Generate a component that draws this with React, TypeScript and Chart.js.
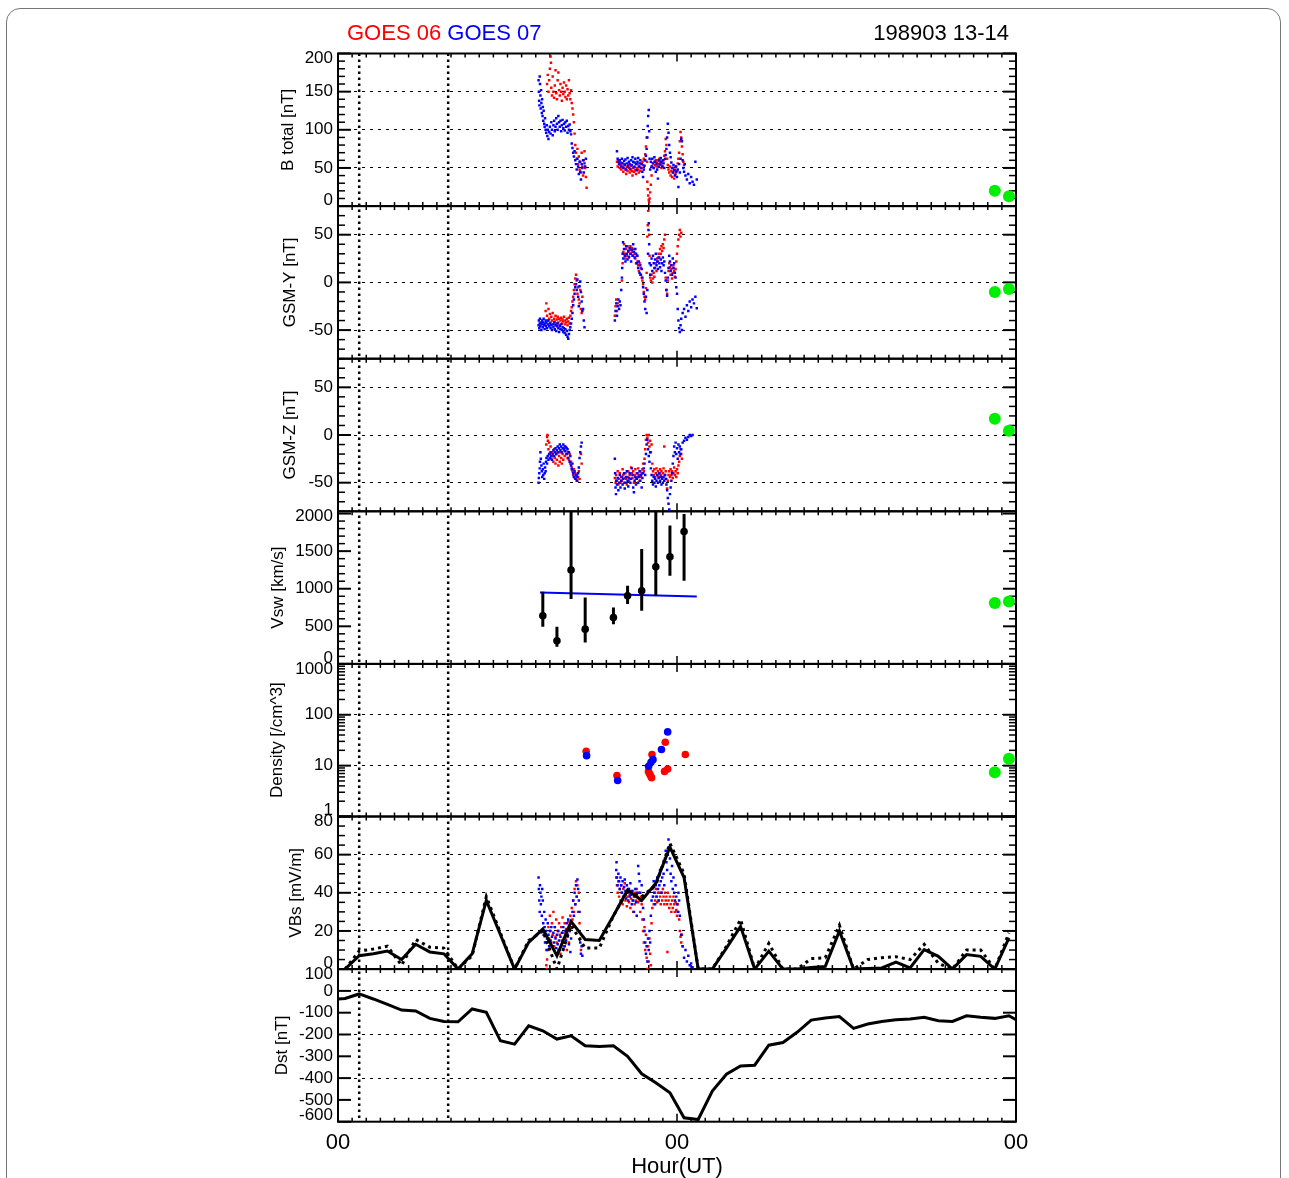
import { useEffect, useRef } from 'react';
import { Chart, registerables } from 'chart.js';

Chart.register(...registerables);

const FONT = "'Liberation Sans', Arial, Helvetica, sans-serif";

// ---------- x axis ----------
const HOUR_TICKS = [0, 24, 48];
const HOUR_LABELS = ['00', '00', '00'];
const MARKER_HOURS = [1.5, 7.8];

// ---------- tick values ----------
const BT_TICKS = [0, 50, 100, 150, 200];
const BY_TICKS = [-50, 0, 50];
const BZ_TICKS = [-50, 0, 50];
const V_TICKS = [0, 500, 1000, 1500, 2000];
const N_TICKS = [1, 10, 100, 1000];
const E_TICKS = [0, 20, 40, 60, 80];
const DST_TICKS = [-600, -500, -400, -300, -200, -100, 0, 100];

// ---------- GOES 06 (red) / GOES 07 (blue) : B total [nT] ----------
const G07_BT = [
  [14.2,165],[14.22,150],[14.24,138],[14.26,132],[14.28,170],[14.3,160],[14.33,145],[14.35,128],[14.38,152],[14.4,135],
  [14.43,122],[14.45,140],[14.48,118],[14.5,130],[14.53,112],[14.56,125],[14.6,108],[14.63,104],[14.66,115],[14.7,100],
  [14.74,96],[14.78,106],[14.82,92],[14.86,100],[14.9,88],[14.95,97],[15,104],[15.05,95],[15.1,110],[15.15,100],
  [15.2,93],[15.25,106],[15.3,112],[15.35,98],[15.4,104],[15.45,115],[15.5,108],[15.55,100],[15.6,118],[15.65,110],
  [15.7,104],[15.75,112],[15.8,98],[15.85,106],[15.9,113],[15.95,102],[16,108],[16.05,99],[16.1,110],[16.15,104],
  [16.2,112],[16.25,96],[16.3,105],[16.35,100],[16.4,107],[16.45,98],[16.5,94],[16.55,82],[16.6,76],[16.65,70],
  [16.7,65],[16.75,72],[16.8,60],[16.85,55],[16.9,48],[16.95,62],[17,52],[17.05,42],[17.1,58],[17.15,45],
  [17.2,35],[17.25,55],[17.3,50],[17.35,60],[17.4,44],[17.45,56],[17.5,52],[17.55,62],
  [19.75,72],[19.8,62],[19.85,58],[19.9,55],[19.95,60],[20,57],[20.05,52],[20.1,62],[20.15,56],[20.2,50],
  [20.25,59],[20.3,54],[20.35,61],[20.4,48],[20.45,56],[20.5,63],[20.55,52],[20.6,58],[20.65,55],[20.7,49],
  [20.75,60],[20.8,54],[20.85,64],[20.9,58],[20.95,51],[21,57],[21.05,62],[21.1,55],[21.15,47],[21.2,58],
  [21.25,63],[21.3,52],[21.35,56],[21.4,60],[21.45,50],[21.5,55],[21.55,45],[21.6,38],[21.65,48],[21.7,53],
  [21.75,60],[21.8,66],[21.85,75],[21.9,90],[21.93,105],[21.96,118],[22,126],[22.03,98],[22.06,62],[22.1,48],
  [21.95,-3],[22.15,58],[22.2,52],[22.25,62],[22.3,56],[22.35,50],[22.4,64],[22.45,58],[22.5,45],[22.55,55],
  [22.6,48],[22.65,36],[22.7,52],[22.75,60],[22.8,55],[22.85,63],[22.9,58],[22.95,52],[23,60],[23.05,56],
  [23.1,50],[23.15,62],[23.2,67],[23.25,75],[23.3,90],[23.35,108],[23.4,96],[23.45,80],[23.5,70],[23.55,64],
  [23.6,57],[23.65,50],[23.7,44],[23.75,54],[23.8,47],[23.85,40],[23.9,52],[23.95,45],[24,38],[24.05,48],
  [24.1,25],[24.15,55],[24.2,44],[24.25,62],[24.3,88],[24.35,85],[24.4,60],[24.45,50],[24.5,45],[24.55,55],
  [24.6,40],[24.7,35],[24.8,42],[24.9,30],[25,38],[25.1,32],[25.2,28],[25.3,58],[25.4,35]
];
const G06_BT = [
  [14.8,160],[14.85,172],[14.9,150],[14.95,165],[15,180],[15.05,196],[15.08,188],[15.1,155],[15.15,145],[15.2,170],
  [15.25,150],[15.3,142],[15.35,158],[15.4,178],[15.45,148],[15.5,140],[15.55,165],[15.6,175],[15.65,152],[15.7,145],
  [15.75,160],[15.8,150],[15.85,138],[15.9,155],[15.95,147],[16,162],[16.05,150],[16.1,143],[16.15,158],[16.2,140],
  [16.25,153],[16.3,145],[16.35,165],[16.4,148],[16.45,140],[16.5,152],[16.55,135],[16.6,128],[16.65,120],[16.7,110],
  [16.75,95],[16.8,80],[16.85,70],[16.9,62],[16.95,75],[17,55],[17.05,65],[17.1,48],[17.15,58],[17.2,44],
  [17.25,70],[17.3,52],[17.35,40],[17.4,60],[17.45,72],[17.5,50],[17.55,38],[17.6,24],
  [19.75,58],[19.8,52],[19.85,60],[19.9,55],[19.95,50],[20,54],[20.05,48],[20.1,56],[20.15,52],[20.2,45],
  [20.25,50],[20.3,55],[20.35,48],[20.4,42],[20.45,52],[20.5,46],[20.55,54],[20.6,50],[20.65,44],[20.7,48],
  [20.75,53],[20.8,46],[20.85,40],[20.9,50],[20.95,45],[21,52],[21.05,47],[21.1,42],[21.15,50],[21.2,55],
  [21.25,48],[21.3,44],[21.35,52],[21.4,46],[21.45,56],[21.5,50],[21.55,58],[21.6,54],[21.65,62],[21.7,60],
  [21.75,68],[21.8,78],[21.85,90],[21.88,58],[21.9,32],[21.93,22],[21.96,14],[22,8],[22.02,-4],[22.03,5],
  [22.06,10],[22.1,18],[22.15,28],[22.2,40],[22.25,52],[22.3,56],[22.35,50],[22.4,58],[22.45,54],[22.5,60],
  [22.55,52],[22.6,57],[22.65,60],[22.7,55],[22.75,62],[22.8,58],[22.85,54],[22.9,50],[22.95,56],[23,52],
  [23.05,60],[23.1,66],[23.15,72],[23.2,88],[23.25,80],[23.3,62],[23.35,54],[23.4,48],[23.45,44],[23.5,52],
  [23.55,40],[23.6,46],[23.65,38],[23.7,50],[23.75,44],[23.8,36],[23.85,48],[23.9,42],[23.95,52],[24,46],
  [24.05,56],[24.1,62],[24.15,70],[24.2,85],[24.25,97],[24.3,90],[24.35,78],[24.4,68],[24.45,58],[24.5,54]
];

// ---------- GSM-Y [nT] ----------
const G07_BY = [
  [14.2,-45],[14.22,-40],[14.25,-48],[14.28,-43],[14.3,-38],[14.33,-46],[14.36,-42],[14.4,-50],[14.43,-44],[14.46,-40],
  [14.5,-47],[14.53,-42],[14.56,-38],[14.6,-45],[14.63,-49],[14.66,-43],[14.7,-40],[14.73,-46],[14.76,-42],[14.8,-48],
  [14.85,-44],[14.9,-40],[14.95,-46],[15,-43],[15.05,-48],[15.1,-45],[15.15,-50],[15.2,-44],[15.25,-47],[15.3,-42],
  [15.35,-49],[15.4,-45],[15.45,-51],[15.5,-46],[15.55,-43],[15.6,-48],[15.65,-52],[15.7,-46],[15.75,-49],[15.8,-44],
  [15.85,-50],[15.9,-47],[15.95,-52],[16,-48],[16.05,-53],[16.1,-49],[16.15,-55],[16.2,-51],[16.25,-57],[16.3,-59],
  [16.35,-54],[16.4,-50],[16.45,-47],[16.5,-43],[16.55,-38],[16.6,-32],[16.65,-24],[16.7,-18],[16.75,-12],[16.8,-5],
  [16.85,-2],[16.9,-8],[16.95,3],[17,-15],[17.05,-25],[17.1,-4],[17.15,1],[17.2,-10],[17.25,-20],[17.3,-30],
  [17.35,-28],[17.4,-40],[17.45,-47],
  [19.6,-40],[19.65,-30],[19.7,-22],[19.75,-35],[19.8,-25],[19.85,-18],[19.9,-28],[19.95,-20],[20,-24],[20.05,-8],
  [20.1,5],[20.12,15],[20.15,30],[20.18,42],[20.2,25],[20.25,35],[20.3,28],[20.35,22],[20.4,38],[20.45,30],
  [20.5,24],[20.55,33],[20.6,27],[20.65,36],[20.7,30],[20.75,22],[20.8,34],[20.85,28],[20.9,40],[20.95,32],
  [21,26],[21.05,35],[21.1,30],[21.15,20],[21.2,28],[21.25,15],[21.3,22],[21.35,10],[21.4,18],[21.45,8],
  [21.5,14],[21.55,5],[21.6,-5],[21.65,-12],[21.7,-20],[21.75,-28],[21.8,-15],[21.85,-32],[21.9,-8],[21.95,30],
  [21.98,55],[22,62],[22.03,40],[22.06,20],[22.1,8],[22.15,18],[22.2,25],[22.25,12],[22.3,28],[22.35,20],
  [22.4,15],[22.45,24],[22.5,30],[22.55,18],[22.6,22],[22.65,14],[22.7,26],[22.75,20],[22.8,16],[22.85,24],
  [22.9,12],[22.95,20],[23,26],[23.05,18],[23.1,22],[23.15,10],[23.2,2],[23.25,-8],[23.3,-14],[23.35,5],
  [23.4,15],[23.45,28],[23.5,22],[23.55,12],[23.6,18],[23.65,8],[23.7,25],[23.75,15],[23.8,20],[23.85,10],
  [23.9,5],[23.95,-5],[24,-12],[24.05,-28],[24.1,-40],[24.15,-48],[24.2,-52],[24.25,-45],[24.3,-38],[24.35,-50],
  [24.4,-32],[24.5,-28],[24.6,-36],[24.7,-24],[24.8,-30],[24.9,-20],[25,-26],[25.1,-18],[25.2,-22],[25.3,-15],[25.4,-27]
];
const G06_BY = [
  [14.7,-30],[14.75,-22],[14.8,-35],[14.85,-40],[14.9,-28],[14.95,-38],[15,-33],[15.05,-42],[15.1,-36],[15.15,-40],
  [15.2,-32],[15.25,-44],[15.3,-38],[15.35,-41],[15.4,-35],[15.45,-43],[15.5,-39],[15.55,-36],[15.6,-42],[15.65,-38],
  [15.7,-45],[15.75,-40],[15.8,-37],[15.85,-43],[15.9,-39],[15.95,-41],[16,-36],[16.05,-44],[16.1,-40],[16.15,-42],
  [16.2,-38],[16.25,-45],[16.3,-41],[16.35,-37],[16.4,-43],[16.45,-35],[16.5,-30],[16.55,-26],[16.6,-20],[16.65,-15],
  [16.7,-8],[16.75,-2],[16.8,4],[16.85,8],[16.9,2],[16.95,-12],[17,-5],[17.05,-18],[17.1,-22],[17.15,-8],
  [17.2,-28],[17.25,-32],[17.3,-15],
  [19.6,-35],[19.65,-25],[19.7,-18],[19.75,-30],[19.8,-22],[20.1,2],[20.15,20],[20.2,32],[20.25,40],[20.3,30],
  [20.35,25],[20.4,35],[20.45,28],[20.5,38],[20.55,32],[20.6,26],[20.65,34],[20.7,38],[20.75,30],[20.8,36],
  [20.85,32],[20.9,28],[20.95,35],[21,30],[21.05,25],[21.1,20],[21.15,28],[21.2,22],[21.25,18],[21.3,12],
  [21.35,20],[21.4,8],[21.45,15],[21.5,5],[21.55,2],[21.6,-2],[21.65,-10],[21.7,-15],[21.75,-18],[21.8,-6],
  [21.85,10],[21.9,48],[21.93,60],[21.96,75],[22,87],[22.03,50],[22.06,28],[22.1,5],[22.15,2],[22.2,8],
  [22.25,0],[22.3,4],[22.35,10],[22.4,6],[22.45,15],[22.5,20],[22.55,12],[22.6,25],[22.65,22],[22.7,30],
  [22.75,26],[22.8,35],[22.85,30],[22.9,38],[22.95,33],[23,40],[23.05,36],[23.1,45],[23.15,50],[23.2,5],
  [23.25,-8],[23.3,-12],[23.35,2],[23.4,12],[23.45,20],[23.5,16],[23.55,8],[23.6,14],[23.65,4],[23.7,10],
  [23.75,18],[23.8,12],[23.85,6],[23.9,14],[23.95,22],[24,30],[24.05,38],[24.1,45],[24.15,50],[24.2,55],
  [24.25,48],[24.3,52]
];

// ---------- GSM-Z [nT] ----------
const G07_BZ = [
  [14.2,-50],[14.22,-45],[14.25,-40],[14.28,-35],[14.3,-28],[14.33,-18],[14.36,-25],[14.4,-32],[14.43,-38],[14.46,-44],
  [14.5,-36],[14.53,-42],[14.56,-30],[14.6,-46],[14.63,-40],[14.66,-34],[14.7,-38],[14.73,-28],[14.76,-24],[14.8,-30],
  [14.85,-22],[14.9,-26],[14.95,-20],[15,-24],[15.05,-18],[15.1,-22],[15.15,-26],[15.2,-20],[15.25,-16],[15.3,-22],
  [15.35,-18],[15.4,-14],[15.45,-20],[15.5,-16],[15.55,-12],[15.6,-18],[15.65,-14],[15.7,-10],[15.75,-16],[15.8,-12],
  [15.85,-18],[15.9,-14],[15.95,-10],[16,-15],[16.05,-12],[16.1,-17],[16.15,-13],[16.2,-20],[16.25,-15],[16.3,-24],
  [16.35,-18],[16.4,-28],[16.45,-22],[16.5,-32],[16.55,-36],[16.6,-30],[16.65,-40],[16.7,-44],[16.75,-38],[16.8,-46],
  [16.85,-42],[16.9,-48],[16.95,-44],[17,-40],[17.05,-34],[17.1,-24],[17.15,-18],[17.2,-12],[17.25,-8],
  [19.6,-25],[19.62,-40],[19.65,-55],[19.68,-62],[19.7,-48],[19.75,-52],[19.8,-45],[19.85,-58],[19.9,-50],[19.95,-42],
  [20,-55],[20.05,-48],[20.1,-44],[20.15,-52],[20.2,-46],[20.25,-40],[20.3,-56],[20.35,-50],[20.4,-44],[20.45,-38],
  [20.5,-48],[20.55,-54],[20.6,-45],[20.65,-40],[20.7,-50],[20.75,-46],[20.8,-35],[20.85,-42],[20.9,-55],[20.95,-60],
  [21,-48],[21.05,-44],[21.1,-52],[21.15,-46],[21.2,-40],[21.25,-50],[21.3,-44],[21.35,-38],[21.4,-48],[21.45,-42],
  [21.5,-55],[21.55,-45],[21.6,-40],[21.65,-35],[21.7,-30],[21.75,-42],[21.8,-20],[21.85,-10],[21.9,-5],[21.95,-15],
  [22,-22],[22.05,-28],[22.1,-18],[22.15,-35],[22.2,-42],[22.25,-48],[22.3,-52],[22.35,-44],[22.4,-50],[22.45,-46],
  [22.5,-54],[22.55,-48],[22.6,-42],[22.65,-50],[22.7,-45],[22.75,-40],[22.8,-48],[22.85,-44],[22.9,-52],[22.95,-46],
  [23,-50],[23.05,-44],[23.1,-48],[23.15,-42],[23.2,-46],[23.25,-52],[23.3,-58],[23.35,-66],[23.4,-72],[23.45,-78],
  [23.5,-62],[23.55,-55],[23.6,-48],[23.65,-40],[23.7,-30],[23.75,-22],[23.8,-12],[23.85,-18],[23.9,-8],[23.95,-20],
  [24,-14],[24.05,-25],[24.1,-10],[24.15,-18],[24.2,-12],[24.25,-20],[24.3,-15],[24.4,-8],[24.5,-6],[24.6,-3],
  [24.7,-5],[24.8,-2],[24.9,0],[25,-1],[25.1,0]
];
const G06_BZ = [
  [14.75,-10],[14.8,-2],[14.83,0],[14.86,-6],[14.9,-15],[14.95,-8],[15,-20],[15.05,-12],[15.1,-25],[15.15,-18],
  [15.2,-22],[15.25,-28],[15.3,-15],[15.35,-24],[15.4,-30],[15.45,-20],[15.5,-26],[15.55,-18],[15.6,-32],[15.65,-22],
  [15.7,-28],[15.75,-18],[15.8,-24],[15.85,-30],[15.9,-20],[15.95,-26],[16,-16],[16.05,-22],[16.1,-12],[16.15,-20],
  [16.2,-14],[16.25,-24],[16.3,-18],[16.35,-26],[16.4,-20],[16.45,-30],[16.5,-28],[16.55,-34],[16.6,-38],[16.65,-42],
  [16.7,-36],[16.75,-44],[16.8,-40],[16.85,-46],[16.9,-42],[16.95,-48],[17,-44],[17.05,-38],[17.1,-46],[17.2,-20],[17.25,-30],
  [19.6,-45],[19.65,-50],[19.7,-42],[19.75,-48],[19.8,-38],[19.85,-52],[19.9,-46],[19.95,-40],[20,-50],[20.05,-44],
  [20.1,-48],[20.15,-36],[20.2,-42],[20.25,-50],[20.3,-45],[20.35,-40],[20.4,-46],[20.45,-52],[20.5,-44],[20.55,-38],
  [20.6,-48],[20.65,-42],[20.7,-46],[20.75,-34],[20.8,-40],[20.85,-45],[20.9,-38],[20.95,-50],[21,-42],[21.05,-36],
  [21.1,-46],[21.15,-40],[21.2,-44],[21.25,-35],[21.3,-42],[21.35,-48],[21.4,-38],[21.45,-44],[21.5,-40],[21.55,-36],
  [21.6,-30],[21.65,-38],[21.7,-25],[21.75,-15],[21.8,-5],[21.85,0],[21.9,-3],[21.95,-8],[22,0],[22.05,-12],
  [22.1,-6],[22.15,-18],[22.2,-10],[22.25,-30],[22.3,-38],[22.35,-42],[22.4,-36],[22.45,-44],[22.5,-40],[22.55,-35],
  [22.6,-42],[22.65,-38],[22.7,-44],[22.75,-40],[22.8,-36],[22.85,-42],[22.9,-38],[22.95,-44],[23,-40],[23.05,-35],
  [23.1,-12],[23.15,-42],[23.2,-38],[23.25,-46],[23.3,-56],[23.35,-48],[23.4,-42],[23.45,-38],[23.5,-44],[23.55,-36],
  [23.6,-42],[23.65,-38],[23.7,-45],[23.75,-40],[23.8,-34],[23.85,-42],[23.9,-38],[23.95,-44],[24,-36],[24.05,-40],
  [24.1,-32],[24.15,-28],[24.2,-22],[24.25,-15],[24.3,-20],[24.35,-25]
];

// ---------- VBs [mV/m] ----------
const G07_VBS = [
  [14.2,48],[14.22,42],[14.25,36],[14.28,30],[14.3,44],[14.33,40],[14.36,34],[14.4,38],[14.43,28],[14.46,42],
  [14.5,36],[14.53,24],[14.56,18],[14.6,30],[14.63,22],[14.66,14],[14.7,26],[14.73,20],[14.76,10],[14.8,16],
  [14.85,24],[14.9,18],[14.95,12],[15,20],[15.05,15],[15.1,22],[15.15,17],[15.2,12],[15.25,19],[15.3,14],
  [15.35,22],[15.4,16],[15.45,11],[15.5,18],[15.55,13],[15.6,20],[15.65,15],[15.7,10],[15.75,17],[15.8,12],
  [15.85,19],[15.9,14],[15.95,22],[16,16],[16.05,12],[16.1,20],[16.15,15],[16.2,24],[16.25,18],[16.3,26],
  [16.35,13],[16.4,20],[16.45,9],[16.5,16],[16.55,24],[16.6,30],[16.65,36],[16.7,28],[16.75,40],[16.8,34],
  [16.85,44],[16.9,38],[16.95,47],[17,42],[17.05,36],[17.1,30],[17.15,14],[17.2,8],[17.25,12],[17.3,7],
  [19.7,52],[19.72,56],[19.75,48],[19.8,44],[19.85,50],[19.9,46],[19.95,42],[20,48],[20.05,44],[20.1,40],
  [20.15,46],[20.2,38],[20.25,43],[20.3,47],[20.35,41],[20.4,37],[20.45,44],[20.5,40],[20.55,36],[20.6,42],
  [20.65,38],[20.7,45],[20.75,39],[20.8,34],[20.85,41],[20.9,36],[20.95,30],[21,38],[21.05,42],[21.1,35],
  [21.15,28],[21.2,40],[21.25,54],[21.3,50],[21.35,46],[21.4,40],[21.45,36],[21.5,44],[21.55,38],[21.6,32],
  [21.65,26],[21.7,20],[21.75,14],[21.8,8],[21.85,12],[21.9,4],[21.95,16],[22,10],[22.05,20],[22.1,14],
  [22.15,28],[22.2,36],[22.25,42],[22.3,38],[22.35,46],[22.4,40],[22.45,34],[22.5,44],[22.55,38],[22.6,48],
  [22.65,42],[22.7,36],[22.75,44],[22.8,52],[22.85,46],[22.9,40],[22.95,48],[23,54],[23.05,50],[23.1,44],
  [23.15,58],[23.2,62],[23.25,56],[23.3,52],[23.35,60],[23.4,68],[23.45,64],[23.5,58],[23.55,50],[23.6,46],
  [23.65,54],[23.7,42],[23.75,48],[23.8,40],[23.85,36],[23.9,44],[23.95,38],[24,34],[24.05,30],[24.1,40],
  [24.15,36],[24.2,28],[24.3,18],[24.4,12],[24.5,6],[24.6,10],[24.7,4],[24.8,7],[24.9,2],[25,3],[25.1,1]
];
const G06_VBS = [
  [14.75,2],[14.78,0],[14.8,5],[14.85,10],[14.9,22],[14.95,16],[15,28],[15.05,20],[15.1,14],[15.15,24],
  [15.2,18],[15.25,30],[15.3,12],[15.35,22],[15.4,17],[15.45,26],[15.5,14],[15.55,20],[15.6,10],[15.65,24],
  [15.7,18],[15.75,8],[15.8,22],[15.85,15],[15.9,27],[15.95,19],[16,12],[16.05,24],[16.1,16],[16.15,21],
  [16.2,10],[16.25,18],[16.3,25],[16.35,14],[16.4,20],[16.45,28],[16.5,22],[16.55,32],[16.6,26],[16.65,36],
  [16.7,30],[16.75,42],[16.8,34],[16.85,46],[16.9,38],[16.95,44],[17,30],[17.05,40],[17.1,24],[17.15,16],[17.2,10],
  [19.7,48],[19.75,44],[19.8,40],[19.85,46],[19.9,38],[19.95,42],[20,36],[20.05,44],[20.1,40],[20.15,34],
  [20.2,42],[20.25,38],[20.3,45],[20.35,36],[20.4,40],[20.45,33],[20.5,38],[20.55,42],[20.6,35],[20.65,39],
  [20.7,32],[20.75,37],[20.8,41],[20.85,36],[20.9,30],[20.95,38],[21,34],[21.05,40],[21.1,36],[21.15,42],
  [21.2,38],[21.25,35],[21.3,40],[21.35,36],[21.4,30],[21.45,38],[21.5,34],[21.55,26],[21.6,20],[21.65,14],
  [21.7,22],[21.75,10],[21.8,18],[21.85,6],[21.9,0],[21.95,12],[22,4],[22.05,16],[22.1,8],[22.15,2],
  [22.2,24],[22.25,32],[22.3,38],[22.35,34],[22.4,40],[22.45,36],[22.5,42],[22.55,38],[22.6,35],[22.65,40],
  [22.7,36],[22.75,40],[22.8,38],[22.85,34],[22.9,40],[22.95,36],[23,42],[23.05,38],[23.1,34],[23.15,40],
  [23.2,36],[23.25,38],[23.3,34],[23.32,9],[23.35,40],[23.4,36],[23.45,32],[23.5,38],[23.55,34],[23.6,30],
  [23.65,36],[23.7,32],[23.75,38],[23.8,34],[23.85,30],[23.9,35],[23.95,31],[24,28],[24.05,34],[24.1,30],
  [24.15,26],[24.2,20],[24.25,17],[24.3,14],[24.35,18],[24.4,12]
];

// ---------- Density [/cm^3] ----------
const G06_DEN = [[17.57,19.1],[19.75,6.4],[21.98,7.7],[22.05,7.0],[22.12,6.4],[22.2,5.8],[22.23,16.5],[23.17,28.8],[23.12,7.7],[23.34,8.6],[24.59,16.5]];
const G07_DEN = [[17.6,15.7],[19.8,5.1],[21.99,9.7],[22.16,11.6],[22.3,13.1],[22.9,20.7],[23.34,46]];

// ---------- Vsw [km/s] (hourly points with error bars) ----------
const VSW_HOURS = [14.5, 15.5, 16.5, 17.5, 19.5, 20.5, 21.5, 22.5, 23.5, 24.5];
const VSW_VALUES = [640, 307, 1249, 462, 618, 906, 973, 1293, 1426, 1760];
const VSW_LOW = [493, 227, 862, 284, 529, 796, 706, 907, 1173, 1107];
const VSW_HIGH = [960, 493, 2025, 884, 751, 1040, 1529, 2025, 1840, 1995];
const VSW_FIT_HOURS = [14.3, 25.4];
const VSW_FIT_VALUES = [950, 897];

// ---------- reference (green) points ----------
const REF_HOURS = [46.5, 47.5];
const REF_BT = [20, 13];
const REF_BY = [-10, -7];
const REF_BZ = [17, 4.5];
const REF_V = [809, 831];
const REF_N = [7.4, 13.7];

// ---------- hourly VBs (solid / dotted) ----------
const VBS_HOURS = [0.5,1.5,2.5,3.5,4.5,5.5,6.5,7.5,8.5,9.5,10.5,11.5,12.5,13.5,14.5,15.5,16.5,17.5,18.5,19.5,20.5,21.5,22.5,23.5,
  24.5,25.5,26.5,27.5,28.5,29.5,30.5,31.5,32.5,33.5,34.5,35.5,36.5,37.5,38.5,39.5,40.5,41.5,42.5,43.5,44.5,45.5,46.5,47.5];
const VBS_SOLID = [0,7,8,9.5,5,13,9,8,0,8,36,18,0,14,21,7,25,15.5,15,28,41.5,36,45,64,
  48,0,0,11,22.4,0,9.4,0,0,0.8,1.4,20,0,0.3,0.6,3.6,0.6,10.2,6.7,0,7.6,6.7,0,16.4];
const VBS_DOTTED = [0,9.5,10.5,12,2,15.5,11.5,11,0,7,38,19,0,15,20,0,23,11,11,28,41,38,44,66,
  50,0,0,12,26,0,13.5,0,0,5.5,6,23,0,5,6,6.5,5,13,3,0,10,10,0,19];

// ---------- Dst [nT] ----------
const DST_HOURS = [0,0.5,1.5,2.5,3.5,4.5,5.5,6.5,7.5,8.5,9.5,10.5,11.5,12.5,13.5,14.5,15.5,16.5,17.5,18.5,19.5,20.5,21.5,22.5,23.5,
  24.5,25.5,26.5,27.5,28.5,29.5,30.5,31.5,32.5,33.5,34.5,35.5,36.5,37.5,38.5,39.5,40.5,41.5,42.5,43.5,44.5,45.5,46.5,47.5,48];
const DST_VALUES = [-37,-35,-14,-37,-62,-88,-92,-126,-140,-142,-83,-98,-229,-244,-160,-183,-221,-206,-252,-255,-252,-300,-380,-421,-467,
  -582,-590,-459,-382,-344,-341,-249,-237,-190,-134,-124,-118,-172,-152,-140,-132,-129,-121,-137,-140,-114,-121,-126,-114,-132];

// ---------- panel axis layout ----------
type Panel = { id: string; title: string; log?: boolean; min: number; max: number; major: number[]; minorStep?: number; grid: number[]; titleX: number };
const PANELS: Panel[] = [
  { id: 'yBt', title: 'B total [nT]', min: 0, max: 200, major: BT_TICKS, minorStep: 10, grid: [50, 100, 150], titleX: 288 },
  { id: 'yBy', title: 'GSM-Y [nT]', min: -80, max: 80, major: BY_TICKS, minorStep: 10, grid: [-50, 0, 50], titleX: 290 },
  { id: 'yBz', title: 'GSM-Z [nT]', min: -80, max: 80, major: BZ_TICKS, minorStep: 10, grid: [-50, 0, 50], titleX: 290 },
  { id: 'yV', title: 'Vsw [km/s]', min: 0, max: 2030, major: V_TICKS, minorStep: 100, grid: [], titleX: 278 },
  { id: 'yN', title: 'Density [/cm^3]', log: true, min: 1, max: 1000, major: N_TICKS, grid: [10, 100], titleX: 277 },
  { id: 'yE', title: 'VBs [mV/m]', min: 0, max: 80, major: E_TICKS, minorStep: 5, grid: [20, 40, 60], titleX: 296 },
  { id: 'yDst', title: 'Dst [nT]', min: -600, max: 100, major: DST_TICKS, grid: [0, -200, -400], titleX: 282 },
];

const AXIS_BOX_LEFT = 250;
const AXIS_BOX_WIDTH = 88;
const TICK_FONT_SIZE = 17;
const TITLE_FONT_SIZE = 17;

function minorValues(p: Panel): number[] {
  const out: number[] = [];
  if (p.log) {
    for (const d of [1, 10, 100]) for (let k = 2; k <= 9; k++) out.push(d * k);
    return out;
  }
  if (!p.minorStep) return out;
  for (let v = p.min; v <= p.max + 1e-9; v += p.minorStep) if (!p.major.includes(v)) out.push(v);
  return out;
}

const framePlugin = {
  id: 'panelFrames',
  beforeDatasetsDraw(chart: any) {
    const { ctx, chartArea } = chart;
    const xs = chart.scales.x;
    const L = chartArea.left, R = chartArea.right;
    const seg = (x1: number, y1: number, x2: number, y2: number) => {
      ctx.beginPath(); ctx.moveTo(x1, y1); ctx.lineTo(x2, y2); ctx.stroke();
    };
    ctx.save();
    ctx.strokeStyle = '#000';
    ctx.fillStyle = '#000';
    // vertical dotted markers
    ctx.lineWidth = 2.5;
    ctx.setLineDash([2.5, 3.5]);
    for (const h of MARKER_HOURS) {
      const x = xs.getPixelForValue(h);
      seg(x, chartArea.top, x, chartArea.bottom);
    }
    ctx.setLineDash([]);
    for (const p of PANELS) {
      const s = chart.scales[p.id];
      const T = s.top, B = s.bottom;
      // hour ticks on top & bottom edges
      ctx.lineWidth = 1.5;
      for (let h = 1; h < 48; h++) {
        const x = xs.getPixelForValue(h);
        const len = h === 24 ? 8 : 4;
        seg(x, T, x, T + len);
        seg(x, B, x, B - len);
      }
      // minor y ticks
      for (const v of minorValues(p)) {
        const y = s.getPixelForValue(v);
        seg(L, y, L + 7, y);
        seg(R, y, R - 7, y);
      }
      // major y ticks
      ctx.lineWidth = 2;
      for (const v of p.major) {
        const y = s.getPixelForValue(v);
        seg(L, y, L + 13, y);
        seg(R, y, R - 13, y);
      }
      // tick labels
      ctx.font = `${TICK_FONT_SIZE}px ${FONT}`;
      ctx.textAlign = 'right';
      ctx.textBaseline = 'middle';
      for (const v of p.major) {
        let y = s.getPixelForValue(v);
        if (y < T + 5) y = T + 5;
        if (y > B - 6) y = B - 6;
        ctx.fillText(String(v), L - 5, y);
      }
      // frame
      ctx.lineWidth = 2;
      ctx.strokeRect(L, T, R - L, B - T);
    }
    ctx.restore();
  },
};

const toXY = (pairs: number[][]) => pairs.map(([x, y]) => ({ x, y }));
const zipXY = (xs: number[], ys: number[]) => xs.map((x, i) => ({ x, y: ys[i] }));

function errorBarData() {
  const out: { x: number; y: number | null }[] = [];
  VSW_HOURS.forEach((h, i) => {
    out.push({ x: h, y: VSW_LOW[i] }, { x: h, y: VSW_HIGH[i] }, { x: h, y: null });
  });
  return out;
}

const RED = '#ff0000';
const BLUE = '#0000ff';
const GREEN = '#00ee00';

function goes(data: number[][], axis: string, color: string, order: number) {
  return {
    data: toXY(data), yAxisID: axis, showLine: false, pointStyle: 'rect', pointRadius: 1.75,
    pointBackgroundColor: color, pointBorderWidth: 0, order,
  };
}
function refPts(vals: number[], axis: string) {
  return {
    data: zipXY(REF_HOURS, vals), yAxisID: axis, showLine: false, pointRadius: 6,
    pointBackgroundColor: GREEN, pointBorderWidth: 0, order: 0,
  };
}

export default function App() {
  const ref = useRef<HTMLCanvasElement>(null);

  useEffect(() => {
    if (!ref.current) return;
    const yScales: any = {};
    PANELS.forEach((p, i) => {
      yScales[p.id] = {
        type: p.log ? 'logarithmic' : 'linear',
        position: 'left',
        stack: 'panels',
        stackWeight: 1,
        weight: PANELS.length - i,
        min: p.min,
        max: p.max,
        afterBuildTicks: (s: any) => { s.ticks = p.major.map((v) => ({ value: v })); },
        afterFit: (s: any) => { s.width = AXIS_BOX_WIDTH; },
        ticks: { display: false },
        grid: {
          drawTicks: false,
          lineWidth: 1,
          color: (c: any) => (c.tick && p.grid.includes(c.tick.value) ? '#000' : 'rgba(0,0,0,0)'),
        },
        border: { display: false, dash: [3, 5] },
        title: {
          display: true, text: p.title, color: '#000',
          font: { size: TITLE_FONT_SIZE, family: FONT },
          padding: { top: p.titleX - AXIS_BOX_LEFT - TITLE_FONT_SIZE * 0.6, bottom: 0 },
        },
      };
    });

    const chart = new Chart(ref.current, {
      type: 'scatter',
      data: {
        datasets: [
          { data: zipXY(VBS_HOURS, VBS_SOLID), yAxisID: 'yE', showLine: true, borderColor: '#000', borderWidth: 3, pointRadius: 0, order: 1 },
          { data: zipXY(VBS_HOURS, VBS_DOTTED), yAxisID: 'yE', showLine: true, borderColor: '#000', borderWidth: 3, borderDash: [3, 4], pointRadius: 0, order: 2 },
          { data: zipXY(DST_HOURS, DST_VALUES), yAxisID: 'yDst', showLine: true, borderColor: '#000', borderWidth: 3, pointRadius: 0, order: 1 },
          { data: errorBarData(), yAxisID: 'yV', showLine: true, spanGaps: false, borderColor: '#000', borderWidth: 3, pointRadius: 0, order: 3 },
          { data: zipXY(VSW_HOURS, VSW_VALUES), yAxisID: 'yV', showLine: false, pointRadius: 3.8, pointBackgroundColor: '#000', pointBorderWidth: 0, order: 2 },
          { data: zipXY(VSW_FIT_HOURS, VSW_FIT_VALUES), yAxisID: 'yV', showLine: true, borderColor: BLUE, borderWidth: 2, pointRadius: 0, order: 4 },
          refPts(REF_BT, 'yBt'), refPts(REF_BY, 'yBy'), refPts(REF_BZ, 'yBz'), refPts(REF_V, 'yV'), refPts(REF_N, 'yN'),
          goes(G07_BT, 'yBt', BLUE, 5), goes(G06_BT, 'yBt', RED, 6),
          goes(G07_BY, 'yBy', BLUE, 5), goes(G06_BY, 'yBy', RED, 6),
          goes(G07_BZ, 'yBz', BLUE, 5), goes(G06_BZ, 'yBz', RED, 6),
          goes(G07_VBS, 'yE', BLUE, 5), goes(G06_VBS, 'yE', RED, 6),
          { data: toXY(G07_DEN), yAxisID: 'yN', showLine: false, pointRadius: 3.8, pointBackgroundColor: BLUE, pointBorderWidth: 0, order: 1 },
          { data: toXY(G06_DEN), yAxisID: 'yN', showLine: false, pointRadius: 3.8, pointBackgroundColor: RED, pointBorderWidth: 0, order: 2 },
        ] as any,
      },
      options: {
        animation: false,
        responsive: false,
        maintainAspectRatio: false,
        devicePixelRatio: 1,
        events: [],
        layout: { padding: { left: AXIS_BOX_LEFT, right: 1289 - 1016, top: 53.5, bottom: 0 } },
        plugins: { legend: { display: false }, tooltip: { enabled: false }, title: { display: false } },
        scales: {
          x: {
            type: 'linear',
            position: 'bottom',
            min: 0,
            max: 48,
            afterBuildTicks: (s: any) => { s.ticks = HOUR_TICKS.map((v) => ({ value: v })); },
            afterFit: (s: any) => { s.height = 1178 - 1121.7; },
            grid: { display: false, drawTicks: false },
            border: { display: false },
            ticks: {
              autoSkip: false, maxRotation: 0, padding: 8, color: '#000',
              font: { size: 22, family: FONT },
              callback: (_v: any, i: number) => HOUR_LABELS[i],
            },
            title: {
              display: true, text: 'Hour(UT)', color: '#000',
              font: { size: 22, family: FONT, lineHeight: 1 },
              padding: { top: 0, bottom: 0 },
            },
          },
          ...yScales,
        },
      },
      plugins: [framePlugin],
    } as any);
    return () => chart.destroy();
  }, []);

  const titleFont = `22px ${FONT}`;
  return (
    <div style={{ position: 'absolute', left: 0, top: 0, width: 1289, height: 1178, overflow: 'hidden', background: '#fff' }}>
      <div style={{ position: 'absolute', left: 6, top: 8, width: 1275, height: 1220, border: '1px solid #777', borderRadius: 14, boxSizing: 'border-box' }} />
      <canvas ref={ref} width={1289} height={1178} style={{ position: 'absolute', left: 0, top: 0 }} />
      <div style={{ position: 'absolute', left: 347, top: 22, font: titleFont, lineHeight: '22px', whiteSpace: 'nowrap' }}>
        <span style={{ color: RED }}>GOES 06</span>{' '}<span style={{ color: BLUE }}>GOES 07</span>
      </div>
      <div style={{ position: 'absolute', right: 1289 - 1009, top: 22, font: titleFont, lineHeight: '22px', whiteSpace: 'nowrap', color: '#000' }}>
        198903 13-14
      </div>
    </div>
  );
}
